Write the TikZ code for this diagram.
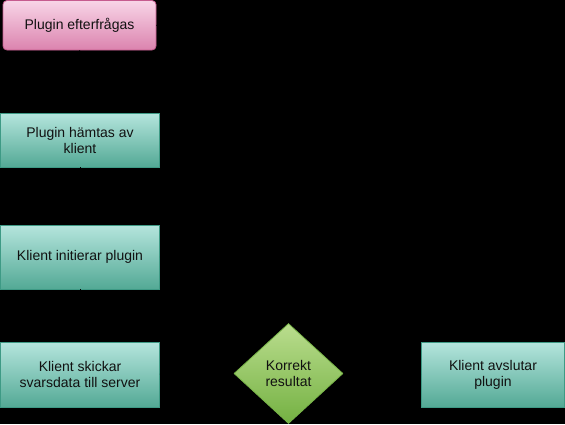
\documentclass[tikz,border=0pt]{standalone}
\usepackage{fontspec}
\setmainfont{Liberation Sans}
\usetikzlibrary{shapes.geometric,arrows.meta}
\definecolor{pinkT}{HTML}{F8D5E7}
\definecolor{pinkB}{HTML}{DB83AE}
\definecolor{pinkD}{HTML}{C65C8F}
\definecolor{tealT}{HTML}{B5E5DD}
\definecolor{tealB}{HTML}{53A995}
\definecolor{tealD}{HTML}{3E9A85}
\definecolor{grnT}{HTML}{BADD8E}
\definecolor{grnB}{HTML}{74B142}
\definecolor{grnD}{HTML}{78B448}
\definecolor{txt}{HTML}{111111}
\tikzset{
  lbl/.style={font=\fontsize{14}{16}\selectfont, text=txt, align=center},
  pinkbox/.style={lbl, rectangle, rounded corners=4pt, draw=pinkD, line width=0.8pt,
    top color=pinkT, bottom color=pinkB, inner sep=0pt},
  tealbox/.style={lbl, rectangle, draw=tealD, line width=0.8pt,
    top color=tealT, bottom color=tealB, inner sep=0pt},
  decis/.style={lbl, diamond, draw=grnD, line width=0.8pt,
    top color=grnT, bottom color=grnB, inner sep=0pt},
  conn/.style={draw=black, line width=1pt, -{Stealth[length=7pt]}}
}
\begin{document}
\begin{tikzpicture}[x=1pt,y=-1pt]
\fill[black] (0,0) rectangle (565,424);
\useasboundingbox (0,0) rectangle (565,424);
\node[pinkbox, minimum width=153pt, minimum height=49.5pt] (n1) at (79.5,25.25) {Plugin efterfrågas};
\node[tealbox, minimum width=159pt, minimum height=54pt] (n2) at (80,140) {Plugin hämtas av\\klient};
\node[tealbox, minimum width=159pt, minimum height=64pt] (n3) at (80,257) {Klient initierar plugin};
\node[tealbox, minimum width=159pt, minimum height=65pt] (n4) at (80,374.5) {Klient skickar\\svarsdata till server};
\node[decis, minimum width=109pt, minimum height=100pt] (d) at (288.5,373.5) {Korrekt\\resultat};
\node[tealbox, minimum width=143pt, minimum height=65pt] (n5) at (493,374.5) {Klient avslutar\\plugin};
\coordinate (c1) at (493,25);
\coordinate (c2) at (288.5,257);
\draw[conn] (n1) -- (n2);
\draw[conn] (n2) -- (n3);
\draw[conn] (n3) -- (n4);
\draw[conn] (n4) -- (d);
\draw[conn] (d) -- (n5);
\draw[conn] (d.north) -- (c2) -- (n3.east);
\draw[conn] (n1.east) -- (c1) -- (n5.north);
\end{tikzpicture}
\end{document}
